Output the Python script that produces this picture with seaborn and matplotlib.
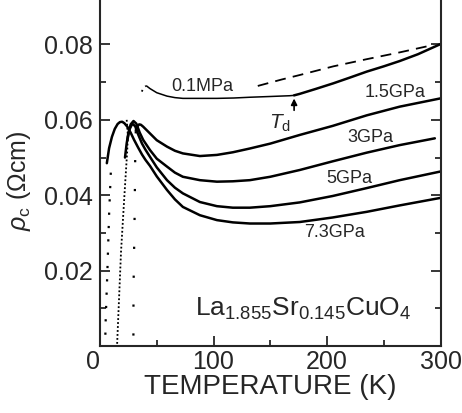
import pandas as pd
import seaborn as sns
import matplotlib
matplotlib.use('Agg')
import matplotlib.pyplot as plt

# c-axis resistivity of La1.855Sr0.145CuO4 under pressure

# 0.1MPa: thin part up to Td, thick part after, dashed extrapolation
t_01_dots = [36.8, 38.5, 40.5]
rho_01_dots = [0.0675, 0.0686, 0.0690]
t_01_low = [41, 44, 50, 59, 66, 73, 88, 103, 118, 132, 150, 167, 171]
rho_01_low = [0.0690, 0.0683, 0.0672, 0.0663, 0.0659, 0.0657, 0.0657, 0.0657, 0.0658, 0.0660, 0.0662, 0.0664, 0.0665]
t_01_high = [171, 176, 190, 205.6, 220, 235, 250, 264, 280, 297, 300]
rho_01_high = [0.0665, 0.0669, 0.0682, 0.0697, 0.0712, 0.0728, 0.0742, 0.0756, 0.0774, 0.0797, 0.0801]
t_dash = [139, 160, 176, 205.6, 235, 264, 294]
rho_dash = [0.0690, 0.0707, 0.0719, 0.0742, 0.0761, 0.0779, 0.0799]

t_15 = [31.5, 33, 34.5, 36, 38, 41, 44, 50, 59, 66, 73, 88, 103, 117, 132, 150, 176, 205, 235, 264, 300]
rho_15 = [0.0572, 0.0583, 0.0588, 0.0587, 0.0582, 0.0573, 0.0564, 0.0546, 0.0529, 0.0518, 0.0511, 0.0504,
          0.0507, 0.0514, 0.0524, 0.0537, 0.0560, 0.0584, 0.0612, 0.0635, 0.0657]

t_3 = [22, 23.5, 25, 27, 29.5, 32, 35, 38, 44, 50, 59, 66, 73, 88, 103, 117, 132, 150, 176, 205, 235, 264, 295]
rho_3 = [0.0500, 0.0538, 0.0565, 0.0588, 0.0597, 0.0590, 0.0566, 0.0547, 0.0520, 0.0497, 0.0476, 0.0460,
         0.0449, 0.0440, 0.0436, 0.0437, 0.0440, 0.0449, 0.0467, 0.0490, 0.0513, 0.0533, 0.0551]

t_5 = [24, 26, 28.5, 31, 33.5, 37, 40, 44, 50, 59, 66, 73, 88, 103, 117, 132, 150, 176, 205, 235, 264, 300]
rho_5 = [0.0545, 0.0575, 0.0590, 0.0583, 0.0562, 0.0537, 0.0521, 0.0502, 0.0474, 0.0440, 0.0420, 0.0405,
         0.0382, 0.0371, 0.0367, 0.0367, 0.0371, 0.0381, 0.0398, 0.0419, 0.0440, 0.0463]

t_73 = [6, 8, 10.5, 13, 15.5, 17.5, 19.5, 21.5, 24, 27, 30, 33.5, 37, 40, 44, 50, 59, 66, 73, 88, 103,
        117, 132, 150, 176, 205, 235, 264, 300]
rho_73 = [0.0485, 0.0525, 0.0555, 0.0576, 0.0589, 0.0594, 0.0595, 0.0591, 0.0582, 0.0566, 0.0547, 0.0527,
          0.0508, 0.0494, 0.0478, 0.0450, 0.0414, 0.0389, 0.0369, 0.0347, 0.0334, 0.0328, 0.0325, 0.0325,
          0.0329, 0.0341, 0.0356, 0.0373, 0.0393]

# superconducting drops (dotted)
t_drop_a = [9.5, 8, 6.5, 5, 4.5]
rho_drop_a = [0.046, 0.035, 0.020, 0.007, 0.0]
t_drop_b = [23.5, 24.5, 24, 21.5, 18.5, 15]
rho_drop_b = [0.0600, 0.0560, 0.0520, 0.0400, 0.0250, 0.0]
t_drop_c = [31.5, 31, 30.5, 29.5, 29.4]
rho_drop_c = [0.0570, 0.0500, 0.0350, 0.0150, 0.0]

curve_labels = ["0.1MPa", "1.5GPa", "3GPa", "5GPa", "7.3GPa"]
label_t = [90, 260, 238, 220, 207]
label_rho = [0.0688, 0.0672, 0.0554, 0.0445, 0.0302]

sns.set_theme(style="ticks")
plt.rcParams['font.family'] = ['Liberation Sans', 'DejaVu Sans']
plt.rcParams['mathtext.fontset'] = 'custom'
plt.rcParams['mathtext.rm'] = 'Liberation Sans'
plt.rcParams['mathtext.it'] = 'Liberation Sans:italic'

fig = plt.figure(figsize=(4.62, 4.13), dpi=100)
ax = fig.add_axes([0.2165, 0.1622, 0.737, 0.8378])

lw = 1.8
for t, r in [(t_15, rho_15), (t_3, rho_3), (t_5, rho_5), (t_73, rho_73), (t_01_high, rho_01_high)]:
    sns.lineplot(x=t, y=r, ax=ax, color="black", lw=lw, sort=False, estimator=None)
sns.lineplot(x=t_01_low, y=rho_01_low, ax=ax, color="black", lw=1.1, sort=False, estimator=None)
sns.lineplot(x=t_dash, y=rho_dash, ax=ax, color="black", lw=1.3, sort=False, estimator=None,
             linestyle=(0, (6, 4)))
sns.lineplot(x=t_01_dots, y=rho_01_dots, ax=ax, color="black", lw=1.3, sort=False, estimator=None,
             linestyle=(0, (1, 2.5)))
sns.lineplot(x=t_drop_a, y=rho_drop_a, ax=ax, color="black", lw=1.6, sort=False, estimator=None,
             linestyle=(0, (1, 5)))
sns.lineplot(x=t_drop_b, y=rho_drop_b, ax=ax, color="black", lw=1.3, sort=False, estimator=None,
             linestyle=(0, (1, 1.2)))
sns.lineplot(x=t_drop_c, y=rho_drop_c, ax=ax, color="black", lw=1.6, sort=False, estimator=None,
             linestyle=(0, (1, 12)))

for lab, x, y in zip(curve_labels, label_t, label_rho):
    ax.text(x, y, lab, fontsize=13, ha="center", va="center")

ax.text(158.6, 0.0590, r"$T_{\rm d}$", fontsize=15, ha="center", va="center")
ax.annotate("", xy=(171, 0.0664), xytext=(171, 0.0618),
            arrowprops=dict(arrowstyle="-|>", color="black", lw=1.2, mutation_scale=9))
ax.text(84, 0.0098, r"La$_{1.855}$Sr$_{0.145}$CuO$_4$", fontsize=19, ha="left", va="center")

ax.set_xlim(0, 300)
ax.set_ylim(0, 0.0918)
ax.set_xticks([0, 100, 200, 300])
ax.set_xticks([50, 150, 250], minor=True)
ax.set_yticks([0.02, 0.04, 0.06, 0.08])
ax.set_yticks([0.01, 0.03, 0.05, 0.07], minor=True)
ax.set_yticklabels(["0.02", "0.04", "0.06", "0.08"])
ax.tick_params(which="both", direction="in", right=True, top=False, width=1.3, labelsize=18)
ax.tick_params(which="major", length=7)
ax.tick_params(which="minor", length=4)
ax.tick_params(axis="x", pad=3)
ax.tick_params(axis="y", pad=5)
ax.get_xticklabels()[0].set_ha("right")
for s in ["left", "right", "bottom"]:
    ax.spines[s].set_linewidth(1.5)
ax.spines["top"].set_visible(False)

ax.set_xlabel("TEMPERATURE (K)", fontsize=20, labelpad=0)
ax.set_ylabel(r"$\rho_{\rm c}$ ($\Omega$cm)", fontsize=18)
ax.yaxis.set_label_coords(-0.197, 0.479)

plt.savefig("out.png", dpi=100)
